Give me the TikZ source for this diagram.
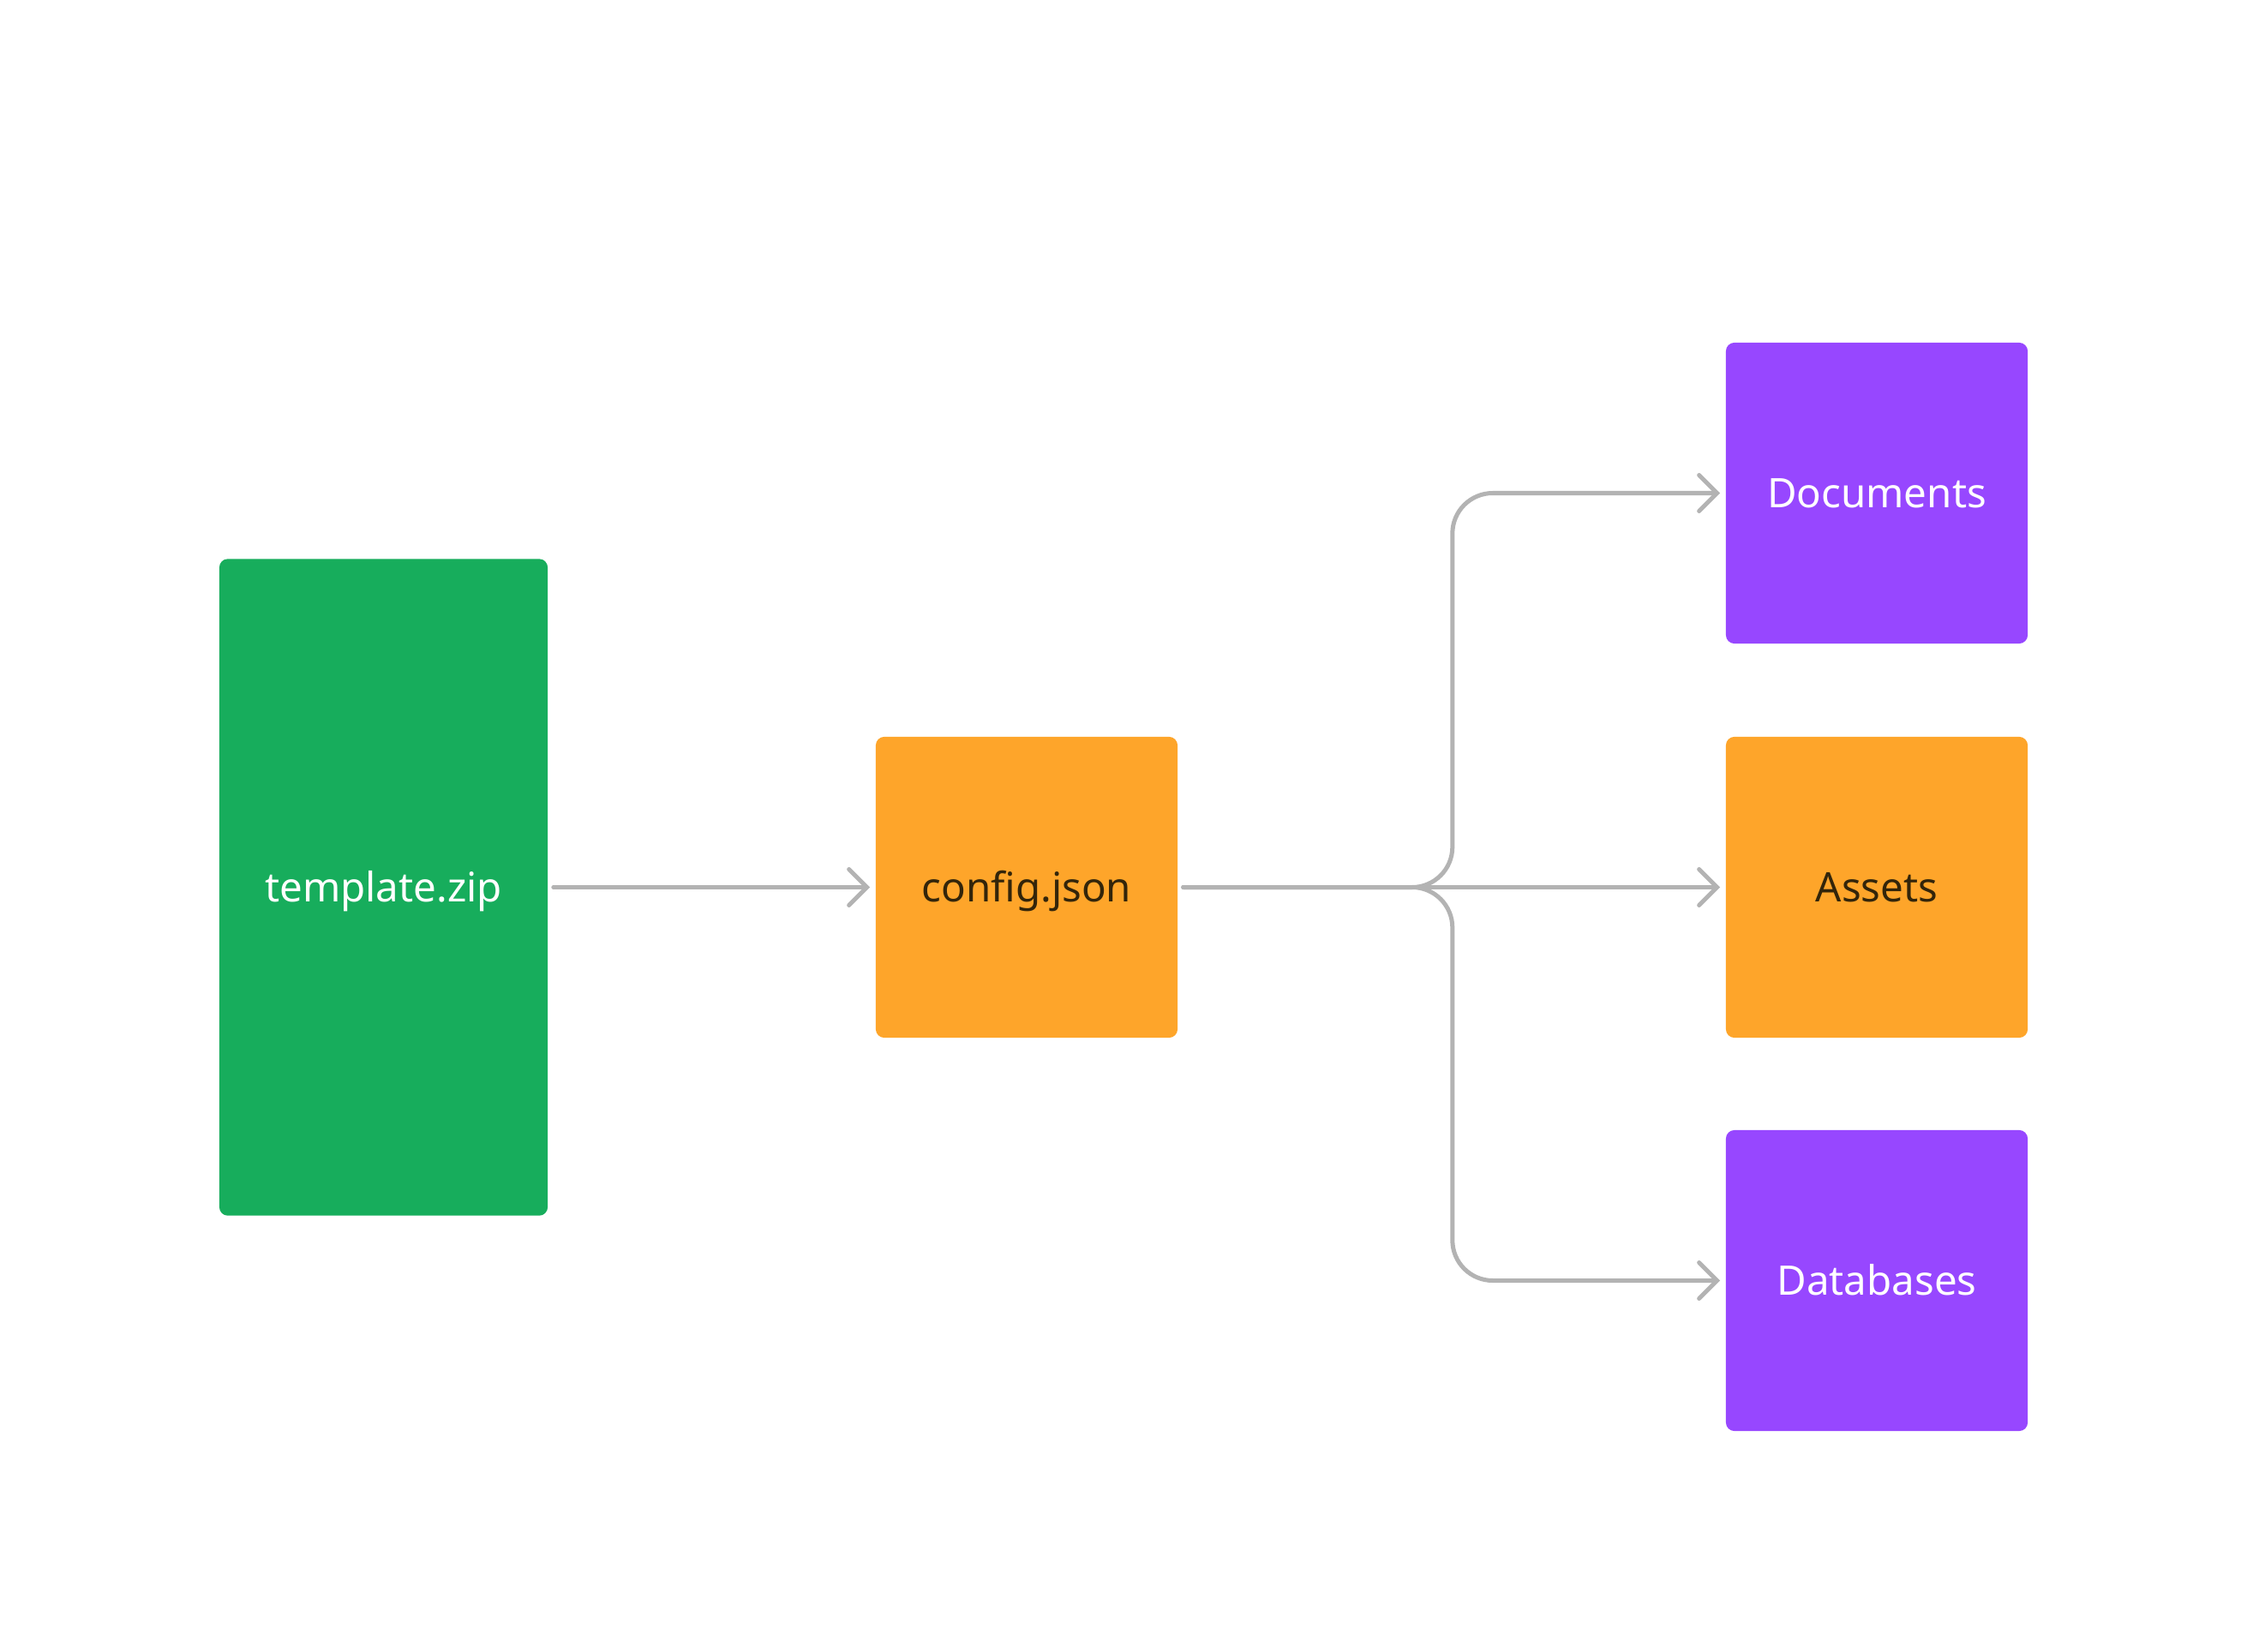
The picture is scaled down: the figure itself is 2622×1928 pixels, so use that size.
\documentclass[tikz,border=0pt]{standalone}
\usepackage{fontspec}
\setmainfont{Noto Sans}
\usetikzlibrary{arrows.meta}
\definecolor{zipgreen}{HTML}{17AD5C}
\definecolor{cfgorange}{HTML}{FEA52A}
\definecolor{dirpurple}{HTML}{9747FF}
\definecolor{linkgray}{HTML}{B3B3B3}
\definecolor{darktext}{HTML}{33250A}
\begin{document}
\begin{tikzpicture}[x=0.01cm,y=-0.01cm,
  box/.style={rectangle, rounded corners=0.1cm, inner sep=0pt,
    minimum width=3.52cm, minimum height=3.51cm,
    text height=0.33cm, text depth=0pt,
    font=\fontsize{13.5}{15}\selectfont},
  conn/.style={draw=linkgray, line width=0.05cm, line cap=round,
    rounded corners=0.47cm, shorten <=0.06cm, shorten >=0.06cm,
    -{Straight Barb[length=0.21cm, width=0.42cm, line cap=round]}}]
  \useasboundingbox (0,0) rectangle (2622,1928);
  \fill[white] (0,0) rectangle (2622,1928);

  % source archive and its config
  \node[box, fill=zipgreen, text=white, minimum width=3.83cm, minimum height=7.66cm]
    (zip) at (447.5,1035.5) {template.zip};
  \node[box, fill=cfgorange, text=darktext] (cfg) at (1198,1035.5) {config.json};

  % targets
  \node[box, fill=dirpurple, text=white] (doc) at (2190,575.5) {Documents};
  \node[box, fill=cfgorange, text=darktext] (ast) at (2190,1035.5) {Assets};
  \node[box, fill=dirpurple, text=white] (db) at (2190,1494.5) {Databases};

  % connectors
  \draw[conn] (zip.east) -- (cfg.west);
  \draw[conn] (cfg.east) -- ++(320,0) |- (doc.west);
  \draw[conn] (cfg.east) -- (ast.west);
  \draw[conn] (cfg.east) -- ++(320,0) |- (db.west);
\end{tikzpicture}
\end{document}
